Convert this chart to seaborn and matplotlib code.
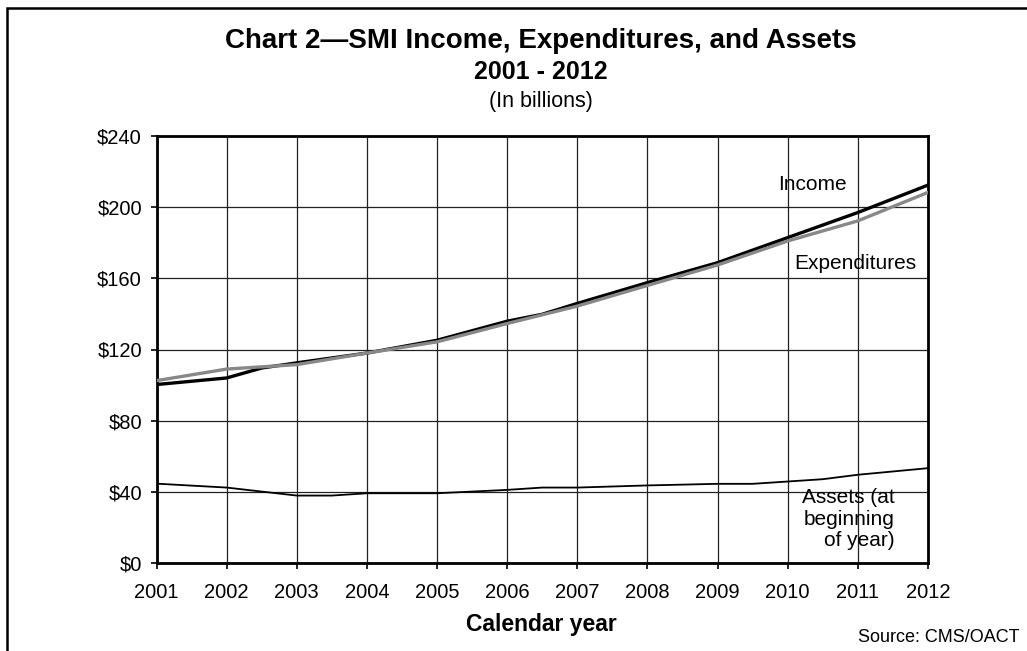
import matplotlib
matplotlib.use("Agg")
import matplotlib.pyplot as plt
import matplotlib.patches as mpatches
import seaborn as sns
import pandas as pd

# ---- data (billions of dollars) ----
income_years = [2001, 2002, 2002.5, 2003, 2004, 2005, 2006, 2006.5, 2007, 2008, 2009, 2010, 2011, 2012]
income_vals = [100.3, 104.0, 109.6, 112.5, 118.0, 125.2, 135.9, 139.8, 145.9, 157.6, 168.8, 182.9, 197.0, 212.4]

exp_years = [2001, 2002, 2003, 2004, 2005, 2006, 2007, 2008, 2009, 2010, 2011, 2012]
exp_vals = [102.5, 109.0, 111.5, 118.0, 124.3, 134.6, 144.4, 156.0, 167.5, 181.0, 192.3, 208.3]

asset_years = [2001, 2002, 2003, 2003.5, 2004, 2005, 2006, 2006.5, 2007, 2008, 2009, 2009.5, 2010, 2010.5, 2011, 2012]
asset_vals = [44.6, 42.4, 37.9, 37.9, 39.2, 39.2, 41.1, 42.4, 42.4, 43.6, 44.5, 44.5, 45.8, 47.1, 49.6, 53.3]

x_ticks = list(range(2001, 2013))
y_ticks = [0, 40, 80, 120, 160, 200, 240]
y_labels = ["$0", "$40", "$80", "$120", "$160", "$200", "$240"]

title = "Chart 2\u2014SMI Income, Expenditures, and Assets"
subtitle = "2001 - 2012"
unit = "(In billions)"
xlabel = "Calendar year"
source = "Source: CMS/OACT"

# ---- style ----
sns.set_style("white")
plt.rcParams["font.family"] = ["Liberation Sans", "DejaVu Sans"]
plt.rcParams["text.color"] = "black"

W, H = 1027, 651
fig = plt.figure(figsize=(W / 100, H / 100), dpi=100)
ax = fig.add_axes([156.5 / W, 1 - 563 / H, (928 - 156.5) / W, (563 - 136) / H])

inc_df = pd.DataFrame({"year": income_years, "value": income_vals})
exp_df = pd.DataFrame({"year": exp_years, "value": exp_vals})
ast_df = pd.DataFrame({"year": asset_years, "value": asset_vals})

sns.lineplot(data=inc_df, x="year", y="value", ax=ax, color="black", linewidth=2.4, zorder=3)
sns.lineplot(data=exp_df, x="year", y="value", ax=ax, color="#888888", linewidth=2.4, zorder=4)
sns.lineplot(data=ast_df, x="year", y="value", ax=ax, color="black", linewidth=1.3, zorder=3)

ax.set_xlim(2001, 2012)
ax.set_ylim(0, 240)
ax.set_xticks(x_ticks)
ax.set_xticklabels([str(y) for y in x_ticks])
ax.set_yticks(y_ticks)
ax.set_yticklabels(y_labels)
ax.grid(True, color="#222222", linewidth=0.9)
ax.set_axisbelow(True)
for s in ax.spines.values():
    s.set_visible(True)
    s.set_color("black")
    s.set_linewidth(2.0)
ax.tick_params(axis="both", which="both", direction="out", length=4.5, width=1.2,
               color="black", labelsize=14.5, labelcolor="black")
ax.tick_params(axis="x", pad=10, bottom=True)
ax.tick_params(axis="y", pad=6, left=True)
ax.set_xlabel("")
ax.set_ylabel("")

# line labels
ax.text(2010.35, 213, "Income", fontsize=15, ha="center", va="center", color="black")
ax.text(2010.96, 168.6, "Expenditures", fontsize=15, ha="center", va="center", color="black")
ax.text(2011.53, 24.7, "Assets (at\nbeginning\nof year)", fontsize=15, ha="right", va="center",
        linespacing=1.15, color="black")

# titles
fig.text(541 / W, 1 - 41 / H, title, fontsize=20, fontweight="bold", ha="center", va="center")
fig.text(541 / W, 1 - 72 / H, subtitle, fontsize=18, fontweight="bold", ha="center", va="center")
fig.text(541 / W, 1 - 101 / H, unit, fontsize=15.5, ha="center", va="center")
fig.text(541 / W, 1 - 624 / H, xlabel, fontsize=16.5, fontweight="bold", ha="center", va="center")
fig.text(1019 / W, 1 - 638 / H, source, fontsize=13, ha="right", va="center")

# figure border (left and top visible)
border = mpatches.Rectangle((6.5 / W, -0.1), 1.2, 1 - 7.5 / H + 0.1, transform=fig.transFigure,
                            fill=False, edgecolor="black", linewidth=1.8, clip_on=False)
fig.patches.append(border)

fig.savefig("out.png", dpi=100)
